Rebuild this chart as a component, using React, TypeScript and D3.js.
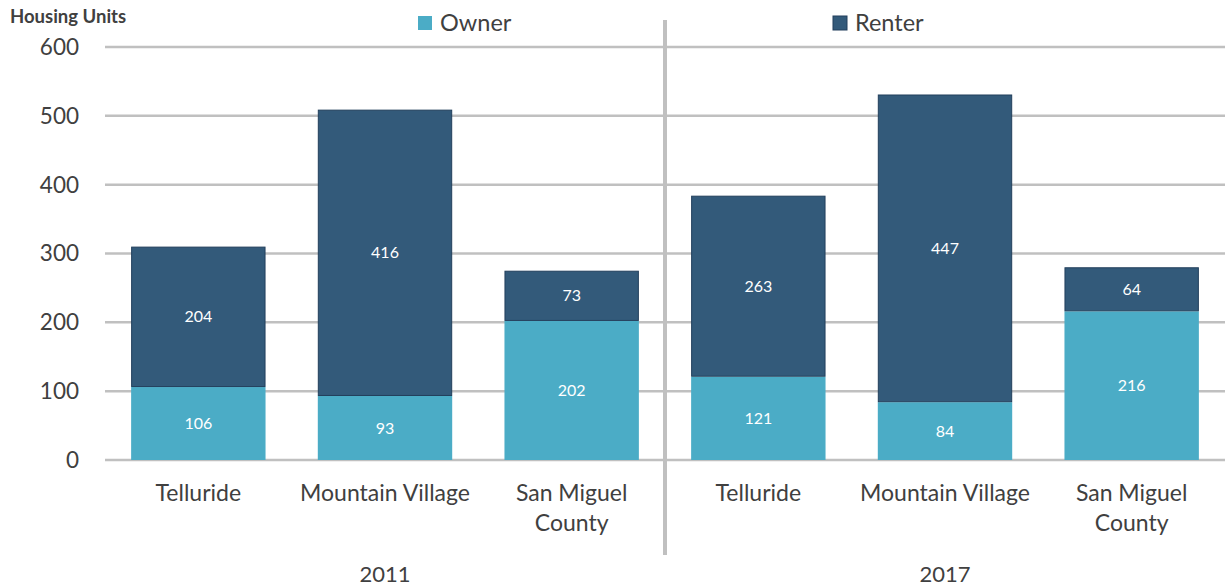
import React, { useRef, useEffect } from 'react';
import * as d3 from 'd3';

const years = ['2011', '2017'];
const places = ['Telluride', 'Mountain Village', 'San Miguel County'];
const owner2011 = [106, 93, 202];
const renter2011 = [204, 416, 73];
const owner2017 = [121, 84, 216];
const renter2017 = [263, 447, 64];
const yTicks = [0, 100, 200, 300, 400, 500, 600];

const OWNER = '#4bacc6';
const RENTER = '#335a7a';
const FONT = 'Lato, "Open Sans", sans-serif';

const App = () => {
  const svgRef = useRef<SVGSVGElement>(null);

  useEffect(() => {
    const svg = d3.select(svgRef.current);
    svg.selectAll('*').remove();

    const width = 1225;
    const height = 587;
    const margin = { top: 47, right: 0, bottom: 127, left: 105 };

    const rows = years.flatMap((yr, yi) =>
      places.map((p, pi) => ({
        key: `${yr}-${p}`,
        year: yr,
        place: p,
        owner: yi === 0 ? owner2011[pi] : owner2017[pi],
        renter: yi === 0 ? renter2011[pi] : renter2017[pi],
      }))
    );

    const x = d3.scaleBand()
      .domain(rows.map(d => d.key))
      .range([margin.left, width - margin.right])
      .paddingInner(0.28)
      .paddingOuter(0.14);

    const y = d3.scaleLinear()
      .domain([0, 600])
      .range([height - margin.bottom, margin.top]);

    // gridlines
    svg.append('g')
      .selectAll('line')
      .data(yTicks)
      .enter()
      .append('line')
      .attr('x1', margin.left)
      .attr('x2', width)
      .attr('y1', d => y(d))
      .attr('y2', d => y(d))
      .attr('stroke', '#c0c0c0')
      .attr('stroke-width', 2.5);

    // y tick labels
    svg.append('g')
      .selectAll('text')
      .data(yTicks)
      .enter()
      .append('text')
      .attr('x', 79)
      .attr('y', d => y(d))
      .attr('dy', '0.35em')
      .attr('text-anchor', 'end')
      .attr('font-family', FONT)
      .attr('font-size', 22.5)
      .attr('fill', '#404040')
      .text(d => d);

    svg.append('text')
      .attr('x', 10)
      .attr('y', 23)
      .attr('font-family', FONT)
      .attr('font-size', 18.5)
      .attr('font-weight', 'bold')
      .attr('fill', '#404040')
      .text('Housing Units');

    // separator between years
    const sepX = x.range()[0] + (x.range()[1] - x.range()[0]) / 2;
    svg.append('line')
      .attr('x1', sepX)
      .attr('x2', sepX)
      .attr('y1', 20)
      .attr('y2', 555)
      .attr('stroke', '#c0c0c0')
      .attr('stroke-width', 4);

    const bars = svg.append('g');
    // owner bars
    bars.selectAll('rect.owner')
      .data(rows)
      .enter()
      .append('rect')
      .attr('class', 'owner')
      .attr('x', d => x(d.key)!)
      .attr('y', d => y(d.owner))
      .attr('width', x.bandwidth())
      .attr('height', d => y(0) - y(d.owner))
      .attr('fill', OWNER);

    // renter bars
    bars.selectAll('rect.renter')
      .data(rows)
      .enter()
      .append('rect')
      .attr('class', 'renter')
      .attr('x', d => x(d.key)! + 0.5)
      .attr('y', d => y(d.owner + d.renter) + 0.5)
      .attr('width', x.bandwidth() - 1)
      .attr('height', d => y(d.owner) - y(d.owner + d.renter) - 1)
      .attr('fill', RENTER)
      .attr('stroke', '#223f5c')
      .attr('stroke-width', 1);

    // value labels
    const labels = svg.append('g')
      .attr('font-family', FONT)
      .attr('font-size', 16)
      .attr('fill', '#ffffff')
      .attr('text-anchor', 'middle');

    labels.selectAll('text.o')
      .data(rows)
      .enter()
      .append('text')
      .attr('x', d => x(d.key)! + x.bandwidth() / 2)
      .attr('y', d => (y(0) + y(d.owner)) / 2)
      .attr('dy', '0.35em')
      .text(d => d.owner);

    labels.selectAll('text.r')
      .data(rows)
      .enter()
      .append('text')
      .attr('x', d => x(d.key)! + x.bandwidth() / 2)
      .attr('y', d => (y(d.owner) + y(d.owner + d.renter)) / 2)
      .attr('dy', '0.35em')
      .text(d => d.renter);

    // category labels
    const cats = svg.append('g')
      .attr('font-family', FONT)
      .attr('font-size', 23)
      .attr('fill', '#404040')
      .attr('text-anchor', 'middle');

    rows.forEach(d => {
      const cx = x(d.key)! + x.bandwidth() / 2;
      const lines = d.place === 'San Miguel County' ? ['San Miguel', 'County'] : [d.place];
      lines.forEach((l, i) => {
        cats.append('text')
          .attr('x', cx)
          .attr('y', 501 + i * 30)
          .text(l);
      });
    });

    // year labels
    years.forEach(yr => {
      const keys = rows.filter(r => r.year === yr).map(r => r.key);
      const cx = (x(keys[0])! + x(keys[keys.length - 1])! + x.bandwidth()) / 2;
      cats.append('text')
        .attr('x', cx)
        .attr('y', 582)
        .attr('font-size', 22)
        .text(yr);
    });

    // legend
    const legend = [
      { name: 'Owner', color: OWNER, x: 418 },
      { name: 'Renter', color: RENTER, x: 833 },
    ];
    const lg = svg.append('g');
    legend.forEach(l => {
      lg.append('rect')
        .attr('x', l.x)
        .attr('y', 16)
        .attr('width', 14)
        .attr('height', 14)
        .attr('fill', l.color)
        .attr('stroke', l.name === 'Renter' ? '#223f5c' : 'none');
      lg.append('text')
        .attr('x', l.x + 22)
        .attr('y', 31)
        .attr('font-family', FONT)
        .attr('font-size', 23.5)
        .attr('fill', '#404040')
        .text(l.name);
    });
  }, []);

  return (
    <svg
      ref={svgRef}
      width="1225"
      height="587"
      style={{ position: 'absolute', left: 0, top: 0, background: '#fff' }}
    ></svg>
  );
};

export default App;
